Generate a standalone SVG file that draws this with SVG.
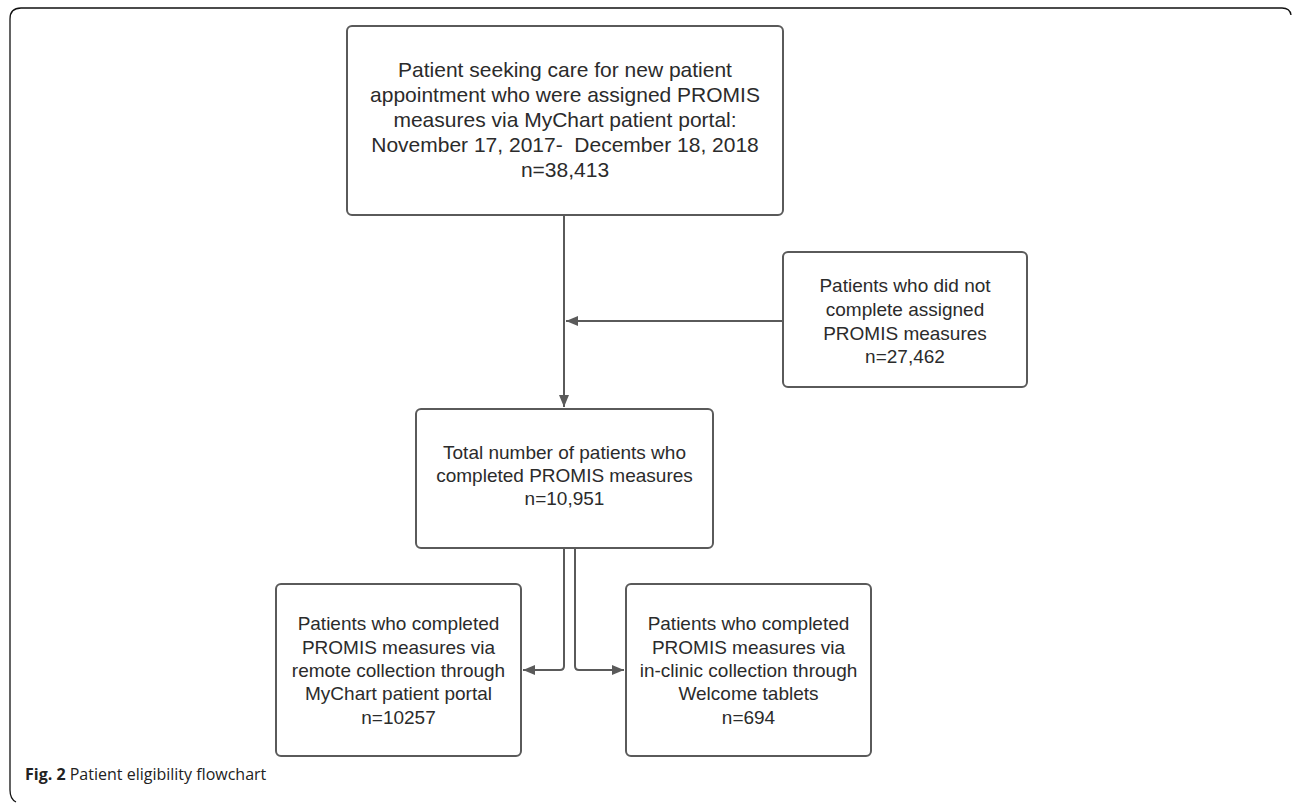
<svg xmlns="http://www.w3.org/2000/svg" width="1292" height="803" viewBox="0 0 1292 803">
<defs>
<style>
.box{fill:#fff;stroke:#5a5a5a;stroke-width:2}
.t{font-family:"Liberation Sans",Arial,sans-serif;fill:#2b2b2b;text-anchor:middle}
.t21{font-size:21px}
.t19{font-size:19px}
.c{fill:none;stroke:#5a5a5a;stroke-width:2}
.cap{font-family:"Open Sans","Noto Sans",sans-serif;font-size:16px;fill:#222}
</style>
<marker id="ah" viewBox="0 0 12 10" refX="12" refY="5" markerWidth="12" markerHeight="10" markerUnits="userSpaceOnUse" orient="auto">
<path d="M0,0 L12,5 L0,10 Z" fill="#5a5a5a"/>
</marker>
</defs>
<rect width="1292" height="803" fill="#fff"/>
<path d="M1291,15 Q1290,8 1282,8 L21,8 Q10,8 10,19 L10,790 Q10,799 16,802" fill="none" stroke="#111" stroke-width="1.3"/>
<g id="connectors">
<path class="c" d="M564,216 L564,407" marker-end="url(#ah)"/>
<path class="c" d="M783,321 L566,321" marker-end="url(#ah)"/>
<path class="c" d="M564,549 L564,666 Q564,670 560,670 L523,670" marker-end="url(#ah)"/>
<path class="c" d="M575,549 L575,666 Q575,670 579,670 L624,670" marker-end="url(#ah)"/>
</g>
<g id="n1">
<rect class="box" x="347" y="26" width="436" height="189" rx="5"/>
<text class="t t21" x="565" y="77">Patient seeking care for new patient</text>
<text class="t t21" x="565" y="102">appointment who were assigned PROMIS</text>
<text class="t t21" x="565" y="127">measures via MyChart patient portal:</text>
<text class="t t21" x="565" y="152" xml:space="preserve">November 17, 2017-  December 18, 2018</text>
<text class="t t21" x="565" y="177">n=38,413</text>
</g>
<g id="n2">
<rect class="box" x="783" y="252" width="244" height="135" rx="5"/>
<text class="t t19" x="905" y="292">Patients who did not</text>
<text class="t t19" x="905" y="316">complete assigned</text>
<text class="t t19" x="905" y="340">PROMIS measures</text>
<text class="t t19" x="905" y="363">n=27,462</text>
</g>
<g id="n3">
<rect class="box" x="416" y="409" width="297" height="139" rx="5"/>
<text class="t t19" x="564.5" y="459">Total number of patients who</text>
<text class="t t19" x="564.5" y="482">completed PROMIS measures</text>
<text class="t t19" x="564.5" y="505">n=10,951</text>
</g>
<g id="n4">
<rect class="box" x="276" y="584" width="245" height="172" rx="5"/>
<text class="t t19" x="398.5" y="630">Patients who completed</text>
<text class="t t19" x="398.5" y="654">PROMIS measures via</text>
<text class="t t19" x="398.5" y="677">remote collection through</text>
<text class="t t19" x="398.5" y="700">MyChart patient portal</text>
<text class="t t19" x="398.5" y="724">n=10257</text>
</g>
<g id="n5">
<rect class="box" x="626" y="584" width="245" height="172" rx="5"/>
<text class="t t19" x="748.5" y="630">Patients who completed</text>
<text class="t t19" x="748.5" y="654">PROMIS measures via</text>
<text class="t t19" x="748.5" y="677">in-clinic collection through</text>
<text class="t t19" x="748.5" y="700">Welcome tablets</text>
<text class="t t19" x="748.5" y="724">n=694</text>
</g>
<text class="cap" x="25" y="780"><tspan font-weight="bold">Fig. 2</tspan> Patient eligibility flowchart</text>
</svg>
